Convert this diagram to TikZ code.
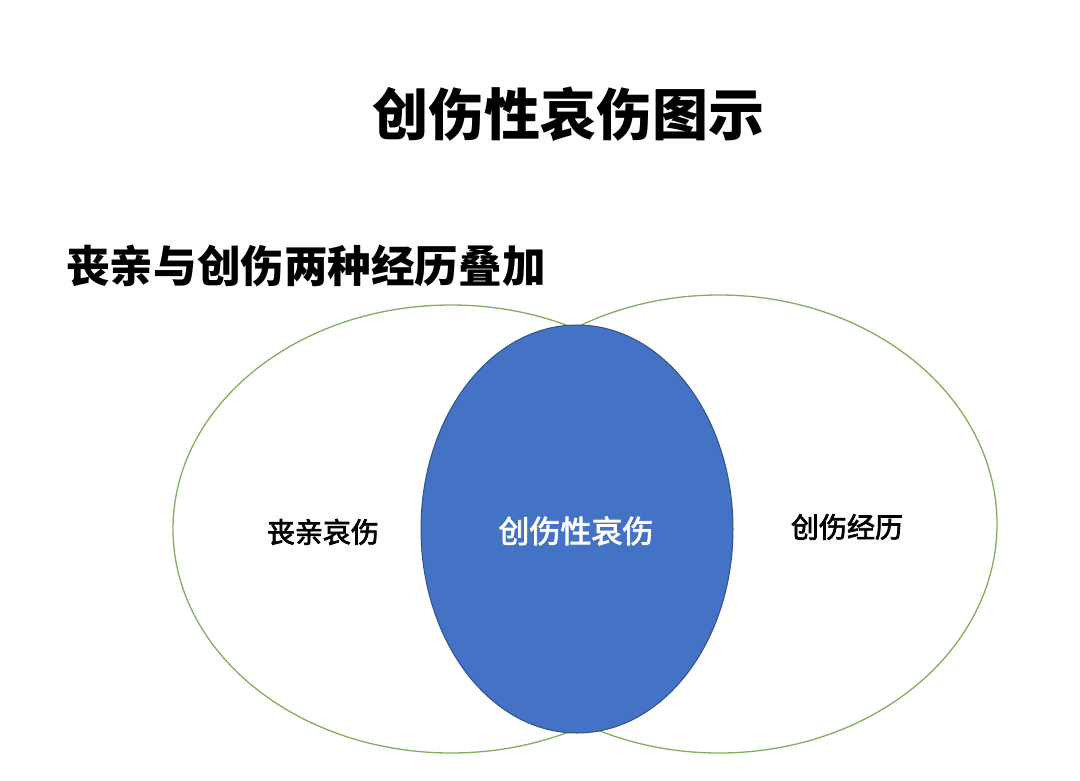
\documentclass[tikz,border=0pt]{standalone}
\usepackage{fontspec}
\newfontfamily\cjk{Noto Sans CJK SC}
\newfontfamily\cjkm{Noto Sans CJK SC}[FakeBold=2.5]
\definecolor{vblue}{HTML}{4472C4}
\definecolor{vblueedge}{HTML}{2F528F}
\definecolor{vgreen}{HTML}{86AD5E}
\begin{document}
\begin{tikzpicture}[x=1pt,y=-1pt,
  outerset/.style={draw=vgreen,line width=1.3pt,fill=none},
  innerset/.style={draw=vblueedge,line width=1pt,fill=vblue},
  lbl/.style={inner sep=0pt,font=\cjkm\fontsize{28}{32}\selectfont}]
\useasboundingbox[fill=white] (0,0) rectangle (1080,780);
\node[inner sep=0pt,font=\cjk\bfseries\fontsize{56}{60}\selectfont] (title) at (568,114) {创伤性哀伤图示};
\node[inner sep=0pt,anchor=west,font=\cjk\bfseries\fontsize{43.6}{48}\selectfont] (sub) at (66,266) {丧亲与创伤两种经历叠加};
\draw[outerset] (451,529) ellipse [x radius=278, y radius=224];
\draw[outerset] (719,524) ellipse [x radius=278, y radius=229];
\draw[innerset] (577,529) ellipse [x radius=156, y radius=204];
\node[lbl] (grief) at (323,532) {丧亲哀伤};
\node[lbl] (trauma) at (847,527) {创伤经历};
\node[lbl,text=white,font=\cjkm\fontsize{31}{34}\selectfont] (tg) at (576,531) {创伤性哀伤};
\end{tikzpicture}
\end{document}
